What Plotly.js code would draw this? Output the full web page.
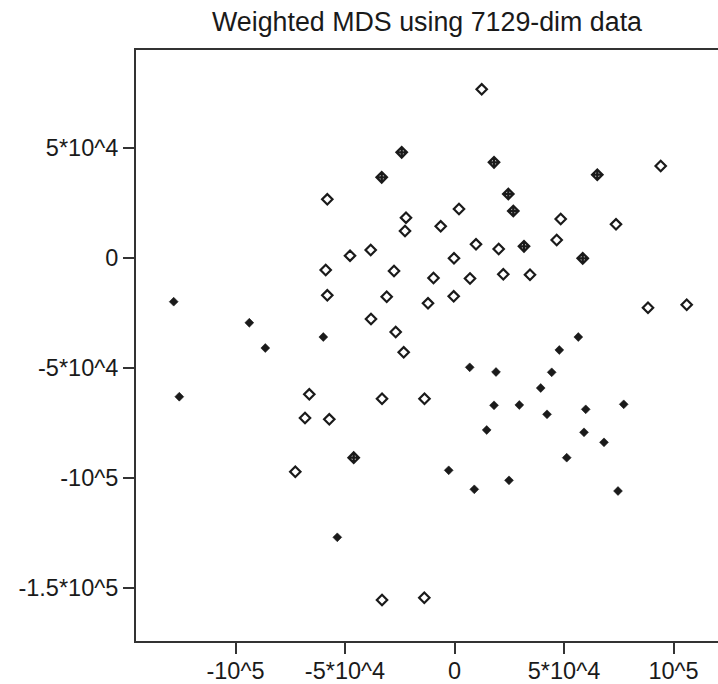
<!DOCTYPE html>
<html>
<head>
<meta charset="utf-8">
<script src="https://cdn.plot.ly/plotly-3.0.1.min.js"></script>
<style>
html, body { margin: 0; padding: 0; background: #fff; overflow: hidden; }
#chart { width: 718px; height: 684px; }
</style>
</head>
<body>
<div id="chart"></div>
<script>
// Group A: open diamonds
const openX = [12420, 94150, -58080, -22150, 2050, -22600, -6300, 48490, 73740, 46660,
  9820, 20180, -38260, -47710, -230, -58810, -27620, -9590, 7080, 22280,
  34470, -58080, -30960, -370, -12100, 88350, 106020, -38130, -26850, -23200,
  -66300, -33100, -13700, -68260, -57170, -72690, -33100, -13790];
const openY = [76670, 41810, 26680, 18320, 22270, 12270, 14410, 17730, 15320, 8180,
  6230, 4090, 3640, 1050, -140, -5450, -5910, -9090, -9320, -7410,
  -7590, -16950, -17590, -17410, -20590, -22590, -21230, -27720, -33630, -42860,
  -61950, -63950, -63950, -72720, -73310, -97130, -155440, -154400];

// Group B: diamond-plus markers
const crossX = [-24110, -33240, 18040, 65200, 24570, 26850, 31730, 58540, -46030];
const crossY = [48040, 36680, 43500, 37860, 29090, 21360, 5320, -140, -90760];

// Group C: filled diamonds
const fillX = [-128220, -93690, -59910, -86390, -125660, 56530, 47850, 6940, 18950, 44380,
  39360, 18040, 29590, 42240, 59910, 77260, 14700, 59130, 68260, 51230,
  -2650, 9040, 24880, 74650, -53510];
const fillY = [-19860, -29410, -35910, -40910, -63040, -35910, -41810, -49680, -51810, -51950,
  -59090, -66950, -66810, -71040, -68770, -66490, -78170, -79220, -83770, -90760,
  -96490, -105130, -101040, -105900, -126940];

const xTickVals = [-100000, -50000, 0, 50000, 100000];
const xTickText = ['-10^5', '-5*10^4', '0', '5*10^4', '10^5'];
const yTickVals = [-150000, -100000, -50000, 0, 50000];
const yTickText = ['-1.5*10^5', '-10^5', '-5*10^4', '0', '5*10^4'];

const ink = '#1a1a1a';

const traces = [
  {
    type: 'scatter', mode: 'markers', x: openX, y: openY,
    marker: { symbol: 'diamond-open', size: 8, color: ink, line: { width: 2.2, color: ink } },
    hoverinfo: 'skip'
  },
  {
    type: 'scatter', mode: 'markers', x: crossX, y: crossY,
    marker: { symbol: 'diamond-cross-open', size: 8, color: ink, line: { width: 2.3, color: ink } },
    hoverinfo: 'skip'
  },
  {
    type: 'scatter', mode: 'markers', x: fillX, y: fillY,
    marker: { symbol: 'diamond', size: 6.8, color: ink, line: { width: 0.6, color: ink } },
    hoverinfo: 'skip'
  }
];

const layout = {
  width: 718, height: 684,
  margin: { l: 136, r: 0, t: 50, b: 43, pad: 0 },
  paper_bgcolor: '#fff', plot_bgcolor: '#fff',
  showlegend: false,
  font: { family: '"Liberation Sans", Arial, sans-serif', color: ink, size: 23.5 },
  title: {
    text: 'Weighted MDS using 7129-dim data',
    font: { family: '"Liberation Sans", Arial, sans-serif', size: 26.8, color: ink },
    xref: 'paper', x: 0.5, xanchor: 'center',
    yref: 'container', y: 1 - 22 / 684, yanchor: 'middle'
  },
  xaxis: {
    range: [-145430, 120310], autorange: false,
    tickvals: xTickVals, ticktext: xTickText,
    showgrid: false, zeroline: false,
    showline: true, mirror: true, linecolor: '#333', linewidth: 2,
    ticks: 'outside', ticklen: 11, tickwidth: 2, tickcolor: '#333',
    ticklabelstandoff: -3,
    tickfont: { size: 23.5, color: ink }
  },
  yaxis: {
    range: [-174070, 94540], autorange: false,
    tickvals: yTickVals, ticktext: yTickText,
    showgrid: false, zeroline: false,
    showline: true, mirror: false, linecolor: '#333', linewidth: 2,
    ticks: 'outside', ticklen: 11, tickwidth: 2, tickcolor: '#333',
    tickfont: { size: 23.5, color: ink }
  }
};

Plotly.newPlot('chart', traces, layout, { staticPlot: true, displayModeBar: false });
</script>
</body>
</html>
